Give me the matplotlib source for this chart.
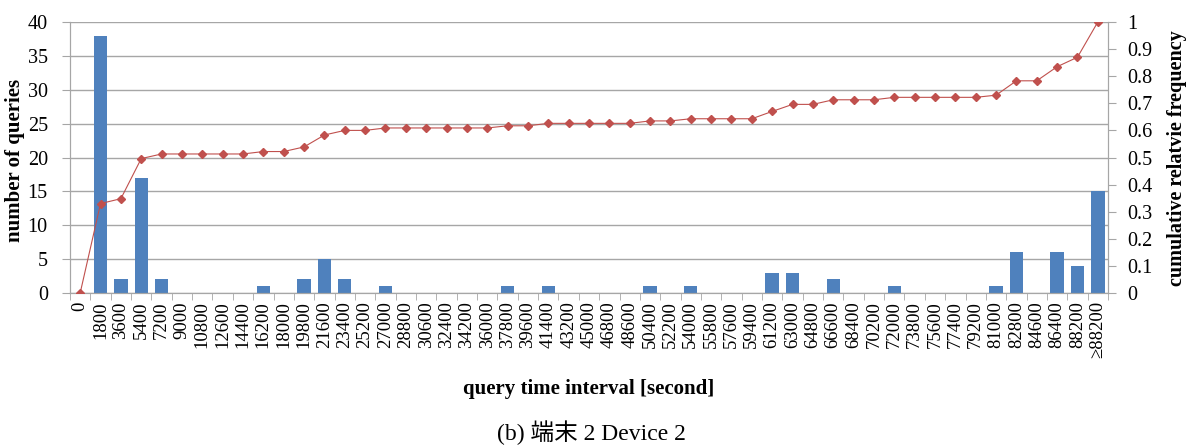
import matplotlib
matplotlib.use("Agg")
from matplotlib import pyplot as plt
from matplotlib.ticker import FixedLocator, FuncFormatter
import numpy as np

plt.rcParams['font.family'] = ['Liberation Serif', 'DejaVu Serif', 'Noto Sans CJK JP']

# Data
labels = [str(v) for v in range(0, 88201, 1800)] + ['≥88200']
counts = [0, 38, 2, 17, 2, 0, 0, 0, 0, 1,
          0, 2, 5, 2, 0, 1, 0, 0, 0, 0,
          0, 1, 0, 1, 0, 0, 0, 0, 1, 0,
          1, 0, 0, 0, 3, 3, 0, 2, 0, 0,
          1, 0, 0, 0, 0, 1, 6, 0, 6, 4,
          15]
cum_freq = [0.0, 0.330, 0.348, 0.496, 0.513, 0.513, 0.513, 0.513, 0.513, 0.522,
            0.522, 0.539, 0.583, 0.600, 0.600, 0.609, 0.609, 0.609, 0.609, 0.609,
            0.609, 0.617, 0.617, 0.626, 0.626, 0.626, 0.626, 0.626, 0.635, 0.635,
            0.643, 0.643, 0.643, 0.643, 0.670, 0.696, 0.696, 0.713, 0.713, 0.713,
            0.722, 0.722, 0.722, 0.722, 0.722, 0.730, 0.783, 0.783, 0.835, 0.870,
            1.0]

grid_c = '#a6a6a6'
x = np.arange(len(labels))

fig = plt.figure(figsize=(11.91, 4.48), dpi=100)
ax = fig.add_axes([70 / 1191, 155 / 448, 1038 / 1191, 271 / 448])
ax2 = ax.twinx()

# Histogram (sloupce)
ax.bar(x, counts, width=0.66, color='#4F81BD', zorder=2)
ax.set_ylim(0, 40)
ax.set_yticks(range(0, 41, 5))
ax.yaxis.grid(True, color=grid_c, lw=1)
ax.set_axisbelow(True)
ax.set_xlim(-0.5, len(labels) - 0.5)
ax.set_xticks(x)
ax.set_xticklabels(labels, rotation=90, fontsize=13.5)
ax.xaxis.set_minor_locator(FixedLocator(np.arange(-0.5, len(labels), 1)))
ax.tick_params(axis='x', which='major', length=0, pad=6)
ax.tick_params(axis='x', which='minor', length=5, color=grid_c)
ax.tick_params(axis='y', length=6, color=grid_c, labelsize=14.5, pad=10)

# Kumulativni cetnost
ax2.plot(x, cum_freq, color='#C0504D', lw=0.8, marker='D', ms=3.8, zorder=3)
ax2.set_ylim(0, 1)
ax2.set_yticks(np.arange(0, 1.01, 0.1))
ax2.yaxis.set_major_formatter(FuncFormatter(lambda v, p: '%g' % round(v, 1)))
ax2.tick_params(axis='y', length=6, color=grid_c, labelsize=14.5, pad=8)

for a in (ax, ax2):
    a.spines['top'].set_visible(False)
    for s in ('left', 'right', 'bottom'):
        a.spines[s].set_color(grid_c)

fig.text(15 / 1191, 1 - 160 / 448, 'number of queries', rotation=90, fontsize=15,
         fontweight='bold', ha='center', va='center')
fig.text(1177 / 1191, 1 - 158 / 448, 'cumulative relatvie frequency', rotation=90,
         fontsize=14.5, fontweight='bold', ha='center', va='center')
fig.text(589 / 1191, 1 - 389 / 448, 'query time interval [second]', fontsize=15,
         fontweight='bold', ha='center', va='center')
fig.text(591 / 1191, 1 - 433 / 448, '(b) 端末 2 Device 2', fontsize=17,
         ha='center', va='center')

fig.savefig('out.png', dpi=100)
